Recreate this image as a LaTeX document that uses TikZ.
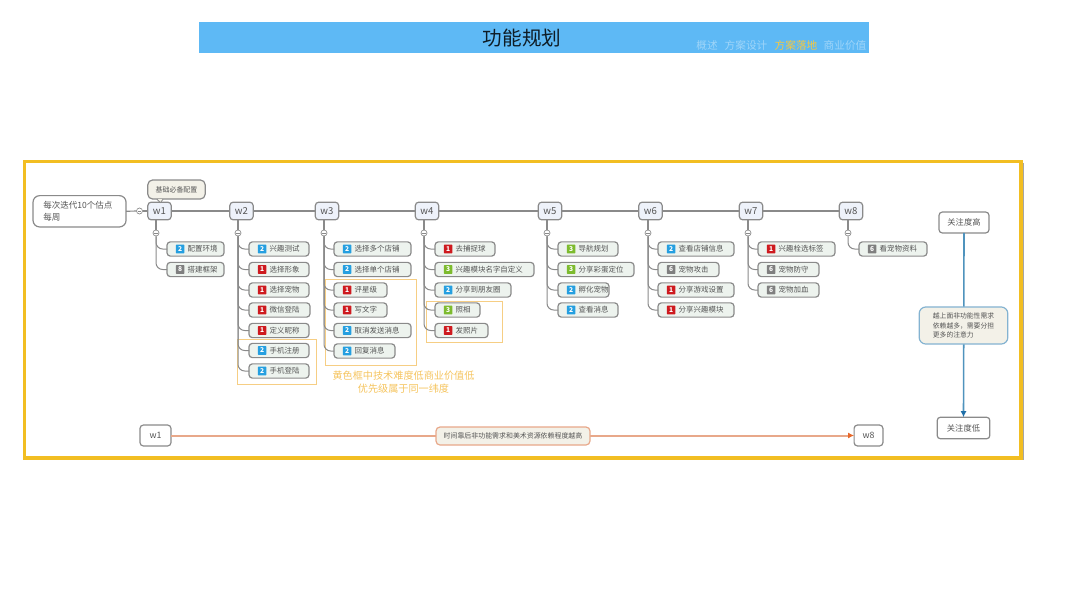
\documentclass[tikz,border=0pt]{standalone}
\usepackage{fontspec}
\setmainfont{Noto Sans CJK SC}
\usetikzlibrary{arrows.meta,calc,shadows}
\definecolor{framey}{HTML}{F2BE22}
\definecolor{bar}{HTML}{5EB9F5}
\definecolor{ink}{HTML}{555555}
\definecolor{edge}{HTML}{8A8A8A}
\definecolor{tfill}{HTML}{EDF3EE}
\definecolor{wfill}{HTML}{EEF2FA}
\definecolor{cfill}{HTML}{F3F1E8}
\definecolor{oline}{HTML}{F6CE84}
\definecolor{otext}{HTML}{F5C45E}
\definecolor{bb}{HTML}{259FE0}
\definecolor{br}{HTML}{CE1A1F}
\definecolor{bg}{HTML}{7DBB2E}
\definecolor{bk}{HTML}{7F7F7F}
\definecolor{bluel}{HTML}{4F93BD}
\definecolor{bluet}{HTML}{1F6FA8}
\definecolor{orl}{HTML}{E8A88A}
\definecolor{ort}{HTML}{E8692B}
\tikzset{
 base/.style={rounded corners=2.5pt,draw=edge,line width=0.9pt,text=ink,inner sep=0pt,outer sep=0pt,align=center},
 wnode/.style={base,fill=wfill,minimum width=17.5pt,minimum height=13.2pt,font=\fontsize{7.2}{8}\selectfont},
 tasknode/.style={base,fill=tfill,minimum height=10.7pt,anchor=west},
 tasktext/.style={text=ink,inner sep=0pt,anchor=west,font=\fontsize{5.6}{6.5}\selectfont},
 badge/.style={inner sep=0pt,minimum size=6.4pt,rounded corners=0.4pt,text=white,anchor=west,font=\fontsize{5}{5}\selectfont\bfseries},
 toggle/.style={circle,draw=edge,fill=white,line width=0.5pt,minimum size=4.5pt,inner sep=0pt,path picture={\draw[edge,line width=0.4pt] ($(path picture bounding box.west)+(0.8pt,0)$) -- ($(path picture bounding box.east)+(-0.8pt,0)$);}},
 trunk/.style={draw=edge,line width=0.85pt},
 branch/.style={draw=edge,line width=0.75pt,rounded corners=5pt},
 obox/.style={draw=oline,line width=0.6pt,fill=none},
 plain/.style={base,fill=white,font=\fontsize{6.2}{8}\selectfont},
 note/.style={rounded corners=5pt,fill=cfill,line width=0.9pt,text=ink,inner sep=0pt,outer sep=0pt},
 navtext/.style={text=white,opacity=0.4,inner sep=0pt,font=\fontsize{8}{8}\selectfont},
}
\newcommand{\wk}[2]{\node[wnode] (#1) at (#2,211) {#1};}
\newcommand{\tog}[2]{\node[toggle] (t#1) at (#2,233) {};\draw[trunk] (t#1.north) -- (t#1.north |- #1.south);}
\newcommand{\tk}[8]{%
 \node[tasknode,minimum width={(#4-#3)*0.75pt}] (#1) at (#3,#5) {};
 \node[badge,fill=#7] (#1b) at ($(#1.west)+(6.5pt,0)$) {#6};
 \node[tasktext] (#1t) at ($(#1b.east)+(2pt,0)$) {#8};
 \draw[branch] (t#2.south) -- (t#2.south |- #1.west) -- (#1.west);}
\begin{document}
\begin{tikzpicture}[x=0.75pt,y=-0.75pt]
\useasboundingbox (0,0) rectangle (1067,600);
% title bar
\node[fill=bar,minimum width=502.5pt,minimum height=23pt,inner sep=0pt,anchor=center] (titlebar) at (533.5,37.8) {};
\node[text=black!85!bar,inner sep=0pt,font=\fontsize{14.7}{16}\selectfont] (title) at (522,38) {功能规划};
\node[navtext] (nav1) at (707,45) {概述};
\node[navtext] (nav2) at (746,45) {方案设计};
\node[text=framey!85!white,inner sep=0pt,font=\fontsize{8}{8}\selectfont] (nav3) at (796,45) {方案落地};
\node[navtext] (nav4) at (845,45) {商业价值};
% frame
\draw[black!35,line width=1.5pt] (26,459.3) -- (1022.5,459.3) -- (1022.5,163);
\draw[framey,line width=2.6pt] (24.7,161.7) rectangle (1021,458);
% orange boxes
\node[obox,draw,minimum width=59.6pt,minimum height=33.6pt,inner sep=0pt] (box2) at (276.9,361.8) {};
\node[obox,draw,minimum width=68.2pt,minimum height=64.5pt,inner sep=0pt] (box3) at (371.2,322) {};
\node[obox,draw,minimum width=57pt,minimum height=30.5pt,inner sep=0pt] (box4) at (464.7,322) {};
\node[text=otext,inner sep=0pt,align=center,font=\fontsize{7.6}{9.9}\selectfont] (otext) at (403.5,382.5) {黄色框中技术难度低商业价值低\\优先级属于同一纬度};
% weeks
\wk{w1}{159.5}\wk{w2}{241.5}\wk{w3}{327}\wk{w4}{427}\wk{w5}{550}\wk{w6}{650.5}\wk{w7}{751}\wk{w8}{851}
\draw[trunk] (w1)--(w2);\draw[trunk] (w2)--(w3);\draw[trunk] (w3)--(w4);\draw[trunk] (w4)--(w5);\draw[trunk] (w5)--(w6);\draw[trunk] (w6)--(w7);\draw[trunk] (w7)--(w8);
\tog{w1}{156}\tog{w2}{238}\tog{w3}{324}\tog{w4}{424}\tog{w5}{547}\tog{w6}{648}\tog{w7}{748}\tog{w8}{848}
% root
\node[base,fill=white,rounded corners=5pt,minimum width=69.8pt,minimum height=23.5pt,anchor=west] (root) at (33,211.3) {};
\node[text=ink,inner sep=0pt,align=left,anchor=west,font=\fontsize{6.4}{8.8}\selectfont] (roottext) at (43,211) {每次迭代10个估点\\每周};
\node[toggle] (troot) at (139.5,211) {};
\draw[trunk] (root.east) -- (troot.west);
\draw[trunk] (troot.east) -- (w1.west);
% callout
\coordinate (pa) at (157,199.2);\coordinate (pb) at (163,199.2);
\node[note,draw=edge,rounded corners=3.5pt,minimum width=43pt,minimum height=14.2pt,font=\fontsize{5.2}{6}\selectfont] (call) at (176.5,189.5) {基础必备配置};
\draw[edge,fill=cfill,line width=0.6pt,line join=round] (pa) -- ($(w1.north)+(1,0.5)$) -- (pb);
% tasks
\tk{a1}{w1}{167}{224}{249}{2}{bb}{配置环境}
\tk{a2}{w1}{167}{224}{269.5}{8}{bk}{搭建框架}
\tk{b1}{w2}{249}{309}{249}{2}{bb}{兴趣测试}
\tk{b2}{w2}{249}{309}{269.5}{1}{br}{选择形象}
\tk{b3}{w2}{249}{309}{290}{1}{br}{选择宠物}
\tk{b4}{w2}{249}{310}{310}{1}{br}{微信登陆}
\tk{b5}{w2}{249}{309}{330.5}{1}{br}{定义昵称}
\tk{b6}{w2}{249}{309}{350.5}{2}{bb}{手机注册}
\tk{b7}{w2}{249}{309}{371}{2}{bb}{手机登陆}
\tk{c1}{w3}{334}{411}{249}{2}{bb}{选择多个店铺}
\tk{c2}{w3}{334}{411}{269.5}{2}{bb}{选择单个店铺}
\tk{c3}{w3}{334}{387}{290}{1}{br}{评星级}
\tk{c4}{w3}{334}{387}{310}{1}{br}{写文字}
\tk{c5}{w3}{334}{411}{330.5}{2}{bb}{取消发送消息}
\tk{c6}{w3}{334}{395}{351}{2}{bb}{回复消息}
\tk{d1}{w4}{435}{495}{249}{1}{br}{去捕捉球}
\tk{d2}{w4}{435}{534}{269.5}{3}{bg}{兴趣模块名字自定义}
\tk{d3}{w4}{435}{511}{290}{2}{bb}{分享到朋友圈}
\tk{d4}{w4}{435}{480}{310}{3}{bg}{照相}
\tk{d5}{w4}{435}{488}{330.5}{1}{br}{发照片}
\tk{e1}{w5}{558}{618}{249}{3}{bg}{导航规划}
\tk{e2}{w5}{558}{634}{269.5}{3}{bg}{分享彩蛋定位}
\tk{e3}{w5}{558}{609}{290}{2}{bb}{孵化宠物}
\tk{e4}{w5}{558}{618}{310}{2}{bb}{查看消息}
\tk{f1}{w6}{658}{734}{249}{2}{bb}{查看店铺信息}
\tk{f2}{w6}{658}{719}{269.5}{6}{bk}{宠物攻击}
\tk{f3}{w6}{658}{734}{290}{1}{br}{分享游戏设置}
\tk{f4}{w6}{658}{734}{310}{1}{br}{分享兴趣模块}
\tk{g1}{w7}{758}{835}{249}{1}{br}{兴趣栓选标签}
\tk{g2}{w7}{758}{819}{269.5}{6}{bk}{宠物防守}
\tk{g3}{w7}{758}{819}{290}{6}{bk}{宠物加血}
\tk{h1}{w8}{859}{927}{249}{6}{bk}{看宠物资料}
% right column
\node[plain,minimum width=37.5pt,minimum height=15.7pt] (high) at (964,222.5) {关注度高};
\node[plain,minimum width=39.5pt,minimum height=16.2pt] (low) at (963.5,428) {关注度低};
\draw[draw=bluel,line width=1.2pt,-{Latex[length=4.5pt,width=4.5pt,color=bluet]}] (high.south) -- (low.north);
\node[note,draw=bluel!70!white,minimum width=66.5pt,minimum height=27.8pt,align=left,font=\fontsize{5.1}{7.2}\selectfont] (why) at (963.5,325.5) {越上面非功能性需求\\依赖越多，需要分担\\更多的注意力};
% bottom row
\node[plain,minimum width=23.2pt,minimum height=15.7pt,font=\fontsize{6.6}{8}\selectfont] (bw1) at (155.5,435.5) {w1};
\node[plain,minimum width=21.6pt,minimum height=15.7pt,font=\fontsize{6.6}{8}\selectfont] (bw8) at (868.5,435.5) {w8};
\draw[draw=orl,line width=1.5pt,-{Latex[length=4.5pt,width=4.5pt,color=ort]}] (bw1.east) -- (bw8.west);
\node[note,draw=orl,rounded corners=3pt,minimum width=115.5pt,minimum height=13.5pt,font=\fontsize{5.2}{6}\selectfont] (span) at (513,436) {时间靠后非功能需求和美术资源依赖程度越高};
\end{tikzpicture}
\end{document}
